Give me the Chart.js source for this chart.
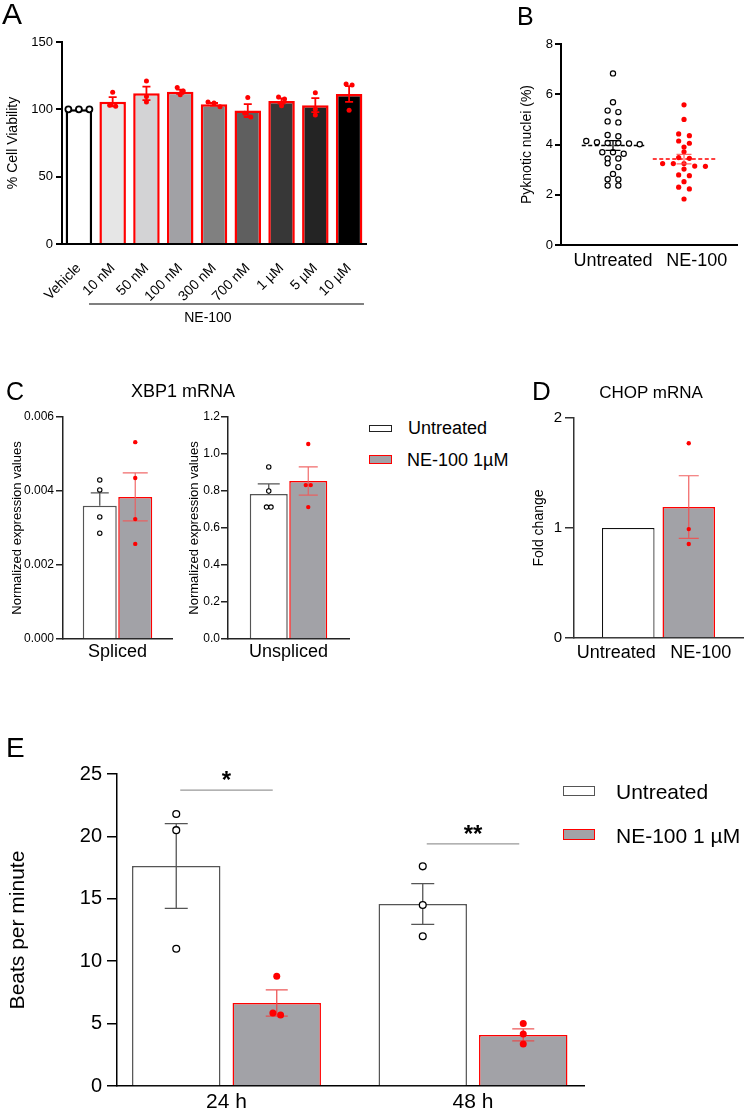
<!DOCTYPE html>
<html><head><meta charset="utf-8">
<script src="https://cdn.jsdelivr.net/npm/chart.js@4.4.1/dist/chart.umd.min.js"></script>
<style>
html,body{margin:0;padding:0;background:#fff;}
#fig{position:relative;width:746px;height:1113px;overflow:hidden;font-family:Arial,"Liberation Sans",sans-serif;color:#000;background:#fff;}
.t{position:absolute;white-space:nowrap;}
.box{position:absolute;box-sizing:border-box;}
canvas{position:absolute;}
</style></head>
<body><div id="fig"></div>
<script>
// ---------------- DATA ----------------
// Panel A: % cell viability
const aCategories = ['Vehicle','10 nM','50 nM','100 nM','300 nM','700 nM','1 µM','5 µM','10 µM'];
const aMeans = [100, 105.6, 111.9, 113.1, 103.7, 99.1, 106.2, 103.1, 111.4];
const aSem = [0, 3.4, 5.0, 1.6, 1.0, 4.8, 1.9, 5.2, 5.8];
const aPoints = [
  [100, 100, 100],
  [112.6, 103, 102.2],
  [121, 109.5, 105.5],
  [116.3, 113.6, 110.9],
  [105.5, 104.7, 102],
  [108.7, 97, 94.3],
  [109.2, 107.7, 102.7],
  [112.4, 100, 95.8],
  [118.8, 118.1, 99.3]
];
const aGroupLabel = 'NE-100';

// Panel B: pyknotic nuclei (%)
const bGroups = ['Untreated', 'NE-100'];
const bUntreated = [6.83,5.68,5.35,5.29,4.92,4.88,4.38,4.33,4.14,4.09,4.06,4.06,4.04,4.01,3.69,3.69,3.63,3.44,3.44,3.25,3.10,2.83,2.62,2.61,2.37,2.37];
const bNE100 = [5.58,5.00,4.42,4.35,4.14,4.05,3.90,3.71,3.48,3.45,3.24,3.24,3.24,3.14,3.13,3.02,2.79,2.76,2.52,2.30,2.23,1.83];
const bMeans = [3.96, 3.42];
const bSem = [0.195, 0.19];

// Panel C: XBP1 mRNA
const cSeries = ['Untreated', 'NE-100 1µM'];
const cSplicedLabel = ['Spliced'];
const cSplicedMeans = [0.0036, 0.00384];
const cSplicedSem = [0.00035, 0.00065];
const cSplicedPoints = [[0.0043, 0.00403, 0.0033, 0.00286], [0.00532, 0.00435, 0.00324, 0.00257]];
const cUnsplicedLabel = ['Unspliced'];
const cUnsplicedMeans = [0.784, 0.854];
const cUnsplicedSem = [0.054, 0.076];
const cUnsplicedPoints = [[0.93, 0.80, 0.713, 0.713], [1.054, 0.832, 0.832, 0.713]];

// Panel D: CHOP mRNA
const dGroups = ['Untreated', 'NE-100'];
const dMeans = [1.0, 1.19];
const dSem = [0, 0.285];
const dNE100Points = [1.77, 0.99, 0.855];

// Panel E: beats per minute
const eTimes = ['24 h', '48 h'];
const eSeries = ['Untreated', 'NE-100 1 µM'];
const eUntreatedMeans = [17.63, 14.58];
const eUntreatedSem = [3.4, 1.63];
const eNE100Means = [6.65, 4.09];
const eNE100Sem = [1.05, 0.48];
const eUntreatedPoints = [[21.8, 20.5, 11.0], [17.6, 14.5, 12.0]];
const eNE100Points = [[8.8, 5.85, 5.69], [5.0, 4.17, 3.37]];
const eSignificance = ['*', '**'];
const eSigHeights = [23.7, 19.4];

// ---------------- HELPERS ----------------
const fig = document.getElementById('fig');
const FONT = 'Arial, "Liberation Sans", sans-serif';
const NARROW = '"Liberation Sans Narrow", "Arial Narrow", Arial, sans-serif';
Chart.defaults.font.family = FONT;
Chart.defaults.color = '#000';
Chart.defaults.animation = false;
Chart.defaults.plugins.legend.display = false;
Chart.defaults.plugins.tooltip.enabled = false;

const GREY = '#a2a2a7';
const RED = '#ff0000';

function mk(left, top, w, h) {
  const c = document.createElement('canvas');
  c.width = w; c.height = h;
  c.style.left = left + 'px'; c.style.top = top + 'px';
  c.style.width = w + 'px'; c.style.height = h + 'px';
  fig.appendChild(c);
  return c;
}
function txt(s, x, cy, size, o) {
  o = o || {};
  const d = document.createElement('div');
  d.className = 't'; d.textContent = s;
  d.style.fontSize = size + 'px'; d.style.lineHeight = size + 'px';
  d.style.top = (cy - size / 2) + 'px'; d.style.left = x + 'px';
  if (o.center) d.style.transform = 'translateX(-50%)';
  fig.appendChild(d);
}
function box(x, y, w, h, border, bg) {
  const d = document.createElement('div');
  d.className = 'box';
  d.style.cssText += `left:${x}px;top:${y}px;width:${w}px;height:${h}px;border:${border};background:${bg};`;
  fig.appendChild(d);
}
function drawErrors(chart, errors) {
  const ctx = chart.ctx, ys = chart.scales.y, xs = chart.scales.x;
  errors.forEach(e => {
    if (!e.sem) return;
    const px = xs.getPixelForValue(e.x);
    const top = ys.getPixelForValue(e.mean + e.sem);
    const bot = ys.getPixelForValue(e.upOnly ? e.mean : e.mean - e.sem);
    ctx.save();
    ctx.strokeStyle = e.color; ctx.lineWidth = e.lw;
    ctx.beginPath();
    ctx.moveTo(px, top); ctx.lineTo(px, bot);
    ctx.moveTo(px - e.cap / 2, top); ctx.lineTo(px + e.cap / 2, top);
    if (!e.upOnly) { ctx.moveTo(px - e.cap / 2, bot); ctx.lineTo(px + e.cap / 2, bot); }
    ctx.stroke();
    ctx.restore();
  });
}
let pluginCount = 0;
function decor(cfg) {
  pluginCount++;
  return {
    id: 'decor' + pluginCount,
    afterDatasetDraw(chart, args) { if (cfg.errAfter === args.index) drawErrors(chart, cfg.errors || []); },
    afterDatasetsDraw(chart) {
      if (cfg.errAfter === -1) drawErrors(chart, cfg.errors || []);
      if (cfg.extra) cfg.extra(chart);
    }
  };
}
// beeswarm: points of similar value are laid side by side, centred on the group
function swarm(chart, center, values, spacing, rowPx) {
  const xs = chart.scales.x, ys = chart.scales.y;
  const cpx = xs.getPixelForValue(center);
  const items = values.map(v => ({ v, py: ys.getPixelForValue(v) })).sort((a, b) => a.py - b.py);
  const rows = [];
  items.forEach(it => {
    const r = rows[rows.length - 1];
    if (r && Math.abs(it.py - r[0].py) <= rowPx) r.push(it); else rows.push([it]);
  });
  const out = [];
  rows.forEach(r => r.forEach((it, k) => {
    out.push({ x: xs.getValueForPixel(cpx + (k - (r.length - 1) / 2) * spacing), y: it.v });
  }));
  return out;
}
const openPt = (r, bw) => ({ pointStyle: 'circle', pointRadius: r, pointHoverRadius: r, pointBackgroundColor: '#fff', pointBorderColor: '#000', pointBorderWidth: bw });
const redPt = (r) => ({ pointStyle: 'circle', pointRadius: r, pointHoverRadius: r, pointBackgroundColor: RED, pointBorderColor: RED, pointBorderWidth: 0 });

function yAxis(o) {
  const ticks = { stepSize: o.step, font: { size: o.font, family: o.family || FONT }, padding: o.pad, color: '#000', autoSkip: false };
  if (o.fmt) ticks.callback = o.fmt;
  return {
    type: 'linear', min: o.min, max: o.max, bounds: 'data',
    ticks,
    grid: { drawOnChartArea: false, drawTicks: true, tickLength: o.tl, color: o.color, lineWidth: o.lw },
    border: { display: true, color: o.color, width: o.lw },
    title: { display: true, text: o.title, color: '#000', font: { size: o.titleFont }, padding: { top: o.titlePad, bottom: 0 } },
    afterFit(s) { s.width = o.width; }
  };
}
// linear index axis with one labelled tick per group
function xIdx(o) {
  return {
    type: 'linear', min: o.min, max: o.max, offset: false, bounds: 'data',
    grid: { display: false, drawTicks: false },
    border: { display: true, color: o.color, width: o.lw },
    afterBuildTicks(s) { s.ticks = o.labels.map((_, i) => ({ value: i + (o.shift ? o.shift[i] : 0) })); },
    ticks: { font: { size: o.font }, padding: o.pad, color: '#000', autoSkip: false, maxRotation: o.rot || 0, minRotation: o.rot || 0,
      callback: (v) => o.labels[Math.round(v)] },
    afterFit(s) { s.height = o.height; }
  };
}
const baseOpts = (pad) => ({ responsive: false, maintainAspectRatio: false, devicePixelRatio: 1, animation: false, layout: { padding: pad } });

// ---------------- PANEL A ----------------
const aFill = ['#ffffff', '#e6e6e6', '#d3d3d5', '#a1a1a5', '#808080', '#5f5f5f', '#373737', '#242424', '#000000'];
const aBorder = aCategories.map((_, i) => i === 0 ? '#000000' : RED);
const chartA = new Chart(mk(0, 0, 380, 340), {
  type: 'bar',
  data: {
    datasets: [
      { type: 'scatter', order: 0, data: [], ...openPt(3, 1.8) },
      { type: 'scatter', order: 0, data: [], ...redPt(2.5) },
      { type: 'bar', order: 2, data: aMeans.map((m, i) => ({ x: i, y: m })), backgroundColor: aFill, borderColor: aBorder, borderWidth: 2.5, categoryPercentage: 1, barPercentage: 0.785 }
    ]
  },
  options: Object.assign(baseOpts({ left: 0, top: 42, right: 14, bottom: 0 }), {
    scales: {
      x: xIdx({ min: -0.5, max: aCategories.length - 0.5, labels: aCategories, color: '#000', lw: 2, font: 14, pad: 16, rot: 45, height: 96 }),
      y: yAxis({ min: 0, max: 150, step: 50, font: 13, pad: 3, tl: 6, color: '#000', lw: 2, title: '% Cell Viability', titleFont: 14, titlePad: 5, width: 62 })
    }
  }),
  plugins: [decor({
    errAfter: 2,
    errors: aMeans.map((m, i) => ({ x: i, mean: m, sem: aSem[i], color: i ? RED : '#000', lw: 1.8, cap: 8 })),
    extra(chart) {
      const xs = chart.scales.x, ctx = chart.ctx, yb = chart.chartArea.bottom + 60;
      ctx.save();
      ctx.strokeStyle = '#000'; ctx.lineWidth = 1.2;
      ctx.beginPath();
      ctx.moveTo(xs.getPixelForValue(0.3), yb); ctx.lineTo(xs.getPixelForValue(aCategories.length - 0.56), yb);
      ctx.stroke();
      ctx.fillStyle = '#000'; ctx.font = '14px ' + FONT; ctx.textAlign = 'center'; ctx.textBaseline = 'middle';
      ctx.fillText(aGroupLabel, xs.getPixelForValue(3.82), yb + 14);
      ctx.restore();
    }
  })]
});
chartA.data.datasets[0].data = swarm(chartA, 0, aPoints[0], 10.5, 5);
chartA.data.datasets[1].data = aPoints.slice(1).flatMap((pts, i) => swarm(chartA, i + 1, pts, 6, 5));
chartA.update('none');

// ---------------- PANEL B ----------------
const chartB = new Chart(mk(515, 0, 231, 290), {
  type: 'scatter',
  data: {
    datasets: [
      { order: 0, data: [], ...openPt(2.6, 1.2) },
      { order: 0, data: [], ...redPt(2.6) },
      { type: 'line', order: 1, showLine: true, data: [{ x: -0.44, y: bMeans[0] }, { x: 0.44, y: bMeans[0] }], borderColor: '#000', borderWidth: 1.4, borderDash: [4, 2.5], pointRadius: 0 },
      { type: 'line', order: 1, showLine: true, data: [{ x: 0.56, y: bMeans[1] }, { x: 1.44, y: bMeans[1] }], borderColor: RED, borderWidth: 1.4, borderDash: [4, 2.5], pointRadius: 0 }
    ]
  },
  options: Object.assign(baseOpts({ left: 0, top: 44, right: 9, bottom: 0 }), {
    scales: {
      x: xIdx({ min: -0.732, max: 1.746, labels: bGroups, shift: [0, 0.18], color: '#000', lw: 2, font: 18, pad: 5, height: 45 }),
      y: yAxis({ min: 0, max: 8, step: 2, font: 13, pad: 2, tl: 6, color: '#000', lw: 2, title: 'Pyknotic nuclei (%)', titleFont: 14, titlePad: 3.6, width: 46 })
    }
  }),
  plugins: [decor({
    errAfter: -1,
    errors: [
      { x: 0, mean: bMeans[0], sem: bSem[0], color: '#000', lw: 1.3, cap: 15 },
      { x: 1, mean: bMeans[1], sem: bSem[1], color: 'rgba(255,80,80,0.85)', lw: 1.3, cap: 15 }
    ]
  })]
});
chartB.data.datasets[0].data = swarm(chartB, 0, bUntreated, 10.7, 4);
chartB.data.datasets[1].data = swarm(chartB, 1, bNE100, 10.7, 4);
chartB.update('none');

// ---------------- PANEL C ----------------
function xbp1Chart(left, width, labels, means, sem, points, cfg) {
  const catPct = cfg.catPct, off = catPct / 4;
  const ch = new Chart(mk(left, 380, width, 300), {
    type: 'bar',
    data: {
      datasets: [
        { type: 'scatter', order: 0, data: [], ...openPt(2.2, 1.1) },
        { type: 'scatter', order: 0, data: [], ...redPt(2.2) },
        { type: 'bar', order: 2, label: cSeries[0], data: [{ x: 0, y: means[0] }], backgroundColor: '#fff', borderColor: '#555', borderWidth: 1.5, categoryPercentage: catPct, barPercentage: cfg.barPct },
        { type: 'bar', order: 3, label: cSeries[1], data: [{ x: 0, y: means[1] }], backgroundColor: GREY, borderColor: RED, borderWidth: 1.5, categoryPercentage: catPct, barPercentage: cfg.barPct }
      ]
    },
    options: Object.assign(baseOpts({ left: 0, top: 37, right: cfg.padRight, bottom: 0 }), {
      scales: {
        x: xIdx({ min: -0.5, max: 0.5, labels, color: '#222', lw: 1.5, font: 18, pad: 2, height: 41 }),
        y: yAxis({ min: 0, max: cfg.max, step: cfg.step, font: 12, family: NARROW, pad: cfg.tickPad, tl: 7, color: '#222', lw: 1.5,
          fmt: (v) => v.toFixed(cfg.dec), title: 'Normalized expression values', titleFont: 13, titlePad: cfg.titlePad, width: cfg.yWidth })
      }
    }),
    plugins: [decor({
      errAfter: 2,
      errors: [
        { x: -off, mean: means[0], sem: sem[0], color: '#555', lw: 1.3, cap: cfg.cap0, upOnly: true },
        { x: off, mean: means[1], sem: sem[1], color: 'rgba(240,90,90,0.9)', lw: 1.2, cap: cfg.cap1 }
      ]
    })]
  });
  ch.data.datasets[0].data = swarm(ch, -off, points[0], 4.5, 3);
  ch.data.datasets[1].data = swarm(ch, off, points[1], 5, 3);
  ch.update('none');
  return ch;
}
xbp1Chart(0, 180, cSplicedLabel, cSplicedMeans, cSplicedSem, cSplicedPoints,
  { catPct: 0.651, barPct: 0.958, padRight: 8, max: 0.006, step: 0.002, dec: 3, tickPad: 2, titlePad: 9.2, yWidth: 63, cap0: 18, cap1: 25 });
xbp1Chart(180, 175, cUnsplicedLabel, cUnsplicedMeans, cUnsplicedSem, cUnsplicedPoints,
  { catPct: 0.653, barPct: 0.962, padRight: 6, max: 1.2, step: 0.2, dec: 1, tickPad: 1, titlePad: 6.2, yWidth: 48, cap0: 22, cap1: 19 });

// ---------------- PANEL D ----------------
const dCatPct = 0.568;
const dOff = 1 - dCatPct / 4;
const chartD = new Chart(mk(520, 380, 226, 300), {
  type: 'bar',
  data: {
    datasets: [
      { type: 'scatter', order: 0, data: [], ...redPt(2.2) },
      { type: 'bar', order: 2, data: [{ x: 1, y: dMeans[1] }], backgroundColor: GREY, borderColor: RED, borderWidth: 1.5, categoryPercentage: dCatPct, barPercentage: 2.19 },
      { type: 'bar', order: 3, data: [{ x: 0, y: dMeans[0] }], backgroundColor: '#fff', borderColor: '#111', borderWidth: 1.2, categoryPercentage: dCatPct, barPercentage: 2.19 }
    ]
  },
  options: Object.assign(baseOpts({ left: 0, top: 38, right: 3, bottom: 0 }), {
    scales: {
      x: xIdx({ min: -0.5, max: 1.5, labels: dGroups, color: '#333', lw: 1.5, font: 18, pad: 4, height: 42 }),
      y: yAxis({ min: 0, max: 2, step: 1, font: 15, pad: 3, tl: 9, color: '#333', lw: 1.5, title: 'Fold change', titleFont: 14, titlePad: 10.6, width: 54 })
    }
  }),
  plugins: [decor({
    errAfter: 1,
    errors: [{ x: dOff, mean: dMeans[1], sem: dSem[1], color: 'rgba(240,80,80,0.9)', lw: 1.2, cap: 20 }]
  })]
});
chartD.data.datasets[0].data = swarm(chartD, dOff, dNE100Points, 5, 3);
chartD.update('none');

// ---------------- PANEL E ----------------
const eCatPct = 0.8154;
const eOff = eCatPct / 4;
const chartE = new Chart(mk(0, 740, 600, 373), {
  type: 'bar',
  data: {
    datasets: [
      { type: 'scatter', order: 0, data: [], ...openPt(3.4, 1.3) },
      { type: 'scatter', order: 0, data: [], ...redPt(3.5) },
      { type: 'bar', order: 2, label: eSeries[0], data: eUntreatedMeans.map((m, i) => ({ x: i, y: m })), backgroundColor: '#fff', borderColor: '#555', borderWidth: 1.5, categoryPercentage: eCatPct, barPercentage: 0.88 },
      { type: 'bar', order: 3, label: eSeries[1], data: eNE100Means.map((m, i) => ({ x: i, y: m })), backgroundColor: GREY, borderColor: RED, borderWidth: 1.5, categoryPercentage: eCatPct, barPercentage: 0.88 }
    ]
  },
  options: Object.assign(baseOpts({ left: 0, top: 34, right: 16, bottom: 0 }), {
    scales: {
      x: xIdx({ min: -0.4442, max: 1.4503, labels: eTimes, color: '#000', lw: 1.5, font: 21, pad: 4, height: 27 }),
      y: yAxis({ min: 0, max: 25, step: 5, font: 20, pad: 5, tl: 10, color: '#000', lw: 1.5, title: 'Beats per minute', titleFont: 21, titlePad: 5.4, width: 117 })
    }
  }),
  plugins: [decor({
    errAfter: 2,
    errors: eUntreatedMeans.map((m, i) => ({ x: i - eOff, mean: m, sem: eUntreatedSem[i], color: '#555', lw: 1.3, cap: 23 }))
      .concat(eNE100Means.map((m, i) => ({ x: i + eOff, mean: m, sem: eNE100Sem[i], color: 'rgba(235,70,70,0.9)', lw: 1.3, cap: 22 }))),
    extra(chart) {
      const xs = chart.scales.x, ys = chart.scales.y, ctx = chart.ctx;
      ctx.save();
      eSignificance.forEach((s, i) => {
        const y = ys.getPixelForValue(eSigHeights[i]);
        const x1 = xs.getPixelForValue(i - eOff) + 4, x2 = xs.getPixelForValue(i + eOff) - 4;
        ctx.strokeStyle = '#999'; ctx.lineWidth = 1.3;
        ctx.beginPath(); ctx.moveTo(x1, y); ctx.lineTo(x2, y); ctx.stroke();
        ctx.fillStyle = '#000'; ctx.font = 'bold 24px ' + FONT; ctx.textAlign = 'center'; ctx.textBaseline = 'alphabetic';
        ctx.fillText(s, (x1 + x2) / 2, y - 2);
      });
      ctx.restore();
    }
  })]
});
chartE.data.datasets[0].data = eUntreatedPoints.flatMap((pts, i) => swarm(chartE, i - eOff, pts, 7.7, 3));
chartE.data.datasets[1].data = eNE100Points.flatMap((pts, i) => swarm(chartE, i + eOff, pts, 7.7, 3));
chartE.update('none');

// ---------------- TEXT: panel letters, titles, legends ----------------
txt('A', 2, 14, 30);
txt('B', 517, 16, 25);
txt('C', 6, 391, 25);
txt('D', 532, 390.5, 26);
txt('E', 6, 748, 28);
txt('XBP1 mRNA', 183, 391, 18, { center: true });
txt('CHOP mRNA', 651, 392, 17, { center: true });

box(369, 425, 23, 7, '1.5px solid #222', '#fff');
txt(cSeries[0], 408, 428, 18);
box(369, 455, 23, 9, '1.5px solid ' + RED, GREY);
txt(cSeries[1], 407, 460, 18);

box(563, 786, 32, 10, '1.5px solid #555', '#fff');
txt(eSeries[0], 616, 791, 21);
box(563, 829, 32, 11, '1.5px solid ' + RED, GREY);
txt(eSeries[1], 616, 835, 21);
</script></body></html>
